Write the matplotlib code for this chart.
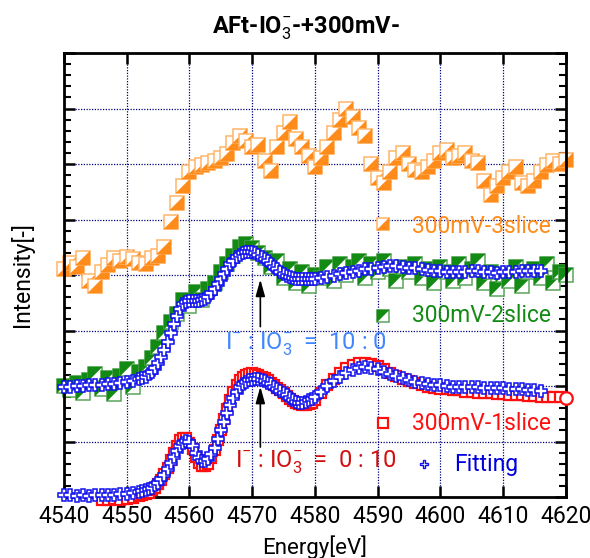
"""AFt-IO3- +300mV XANES slices with fitting curves."""

import matplotlib
matplotlib.use('Agg')
import matplotlib.pyplot as plt
from matplotlib.path import Path
from matplotlib.ticker import MultipleLocator

plt.rcParams['font.family'] = ['Roboto', 'DejaVu Sans']
plt.rcParams['mathtext.fontset'] = 'custom'
plt.rcParams['mathtext.rm'] = 'Roboto'
plt.rcParams['mathtext.it'] = 'Roboto'
plt.rcParams['mathtext.bf'] = 'Roboto:bold'

# ---- data (Intensity in arbitrary units, offset stacked) ----
fit_grid = [4540, 4541, 4542, 4543, 4544, 4545, 4546, 4547, 4548, 4549, 4550, 4551,
            4552, 4552.5, 4553, 4553.5, 4554, 4554.5, 4555, 4555.5, 4556, 4556.5,
            4557, 4557.5, 4558, 4558.5, 4559, 4559.5, 4560, 4560.5, 4561, 4561.5,
            4562, 4562.5, 4563, 4563.5, 4564, 4564.5, 4565, 4565.5, 4566, 4566.5,
            4567, 4567.5, 4568, 4568.5, 4569, 4569.5, 4570, 4570.5, 4571, 4571.5,
            4572, 4572.5, 4573, 4573.5, 4574, 4574.5, 4575, 4575.5, 4576, 4576.5,
            4577, 4577.5, 4578, 4578.5, 4579, 4579.5, 4580,
            4581, 4582, 4583, 4584, 4585, 4586, 4587, 4588, 4589, 4590, 4591, 4592,
            4593, 4594, 4595, 4596, 4597, 4598, 4599, 4600, 4601, 4602, 4603, 4604,
            4605, 4606, 4607, 4608, 4609, 4610, 4611, 4612, 4613, 4614, 4615, 4616]

fit1_y = [0.03, 0.03, 0.02, 0.03, 0.02, 0.03, 0.03, 0.04, 0.04, 0.05, 0.06, 0.07,
          0.09, 0.10, 0.12, 0.14, 0.17, 0.21, 0.26, 0.32, 0.40, 0.50,
          0.61, 0.72, 0.83, 0.92, 0.98, 1.01, 0.99, 0.92, 0.80, 0.70,
          0.65, 0.64, 0.68, 0.77, 0.89, 1.04, 1.20, 1.36, 1.52, 1.66,
          1.79, 1.90, 1.98, 2.04, 2.08, 2.10, 2.11, 2.12, 2.12, 2.11,
          2.09, 2.06, 2.03, 1.99, 1.95, 1.91, 1.87, 1.83, 1.79, 1.75,
          1.72, 1.70, 1.70, 1.71, 1.74, 1.77, 1.81,
          1.90, 2.00, 2.09, 2.17, 2.24, 2.29, 2.33, 2.34, 2.33, 2.30, 2.26, 2.22,
          2.18, 2.14, 2.11, 2.08, 2.06, 2.04, 2.02, 2.01, 2.00, 1.99, 1.99, 1.98,
          1.99, 1.98, 1.97, 1.97, 1.96, 1.97, 1.95, 1.95, 1.94, 1.93, 1.92, 1.91]

fit2_y = [1.99, 1.99, 2.00, 2.00, 2.01, 2.01, 2.02, 2.03, 2.04, 2.05, 2.07, 2.09,
          2.12, 2.14, 2.17, 2.21, 2.26, 2.33, 2.41, 2.52, 2.65, 2.80,
          2.96, 3.12, 3.27, 3.39, 3.47, 3.51, 3.53, 3.53, 3.53, 3.54,
          3.55, 3.57, 3.61, 3.67, 3.74, 3.83, 3.92, 4.02, 4.11, 4.19,
          4.26, 4.32, 4.36, 4.39, 4.41, 4.42, 4.41, 4.39, 4.36, 4.33,
          4.29, 4.25, 4.20, 4.15, 4.10, 4.06, 4.02, 3.99, 3.96, 3.94,
          3.93, 3.92, 3.92, 3.92, 3.92, 3.92, 3.93,
          3.94, 3.96, 3.98, 4.01, 4.04, 4.06, 4.08, 4.10, 4.11, 4.13, 4.15, 4.16,
          4.16, 4.15, 4.13, 4.12, 4.10, 4.09, 4.08, 4.07, 4.06, 4.06, 4.05, 4.06,
          4.07, 4.07, 4.06, 4.05, 4.04, 4.05, 4.06, 4.06, 4.07, 4.07, 4.07, 4.07]

slice1_E = [4546, 4547, 4548, 4549, 4550, 4551,
            4552, 4552.5, 4553, 4553.5, 4554, 4554.5, 4555, 4555.5, 4556, 4556.5,
            4557, 4557.5, 4558, 4558.5, 4559, 4559.5, 4560, 4560.5, 4561, 4561.5,
            4562, 4562.5, 4563, 4563.5, 4564, 4564.5, 4565, 4565.5, 4566, 4566.5,
            4567, 4567.5, 4568, 4568.5, 4569, 4569.5, 4570, 4570.5, 4571, 4571.5,
            4572, 4572.5, 4573, 4573.5, 4574, 4574.5, 4575, 4575.5, 4576, 4576.5,
            4577, 4577.5, 4578, 4578.5, 4579, 4579.5, 4580,
            4581, 4582, 4583, 4584, 4585, 4586, 4587, 4588, 4589, 4590, 4591, 4592,
            4593, 4594, 4595, 4596, 4597, 4598, 4599, 4600, 4601, 4602, 4603, 4604,
            4605, 4606, 4607, 4608, 4609, 4610, 4611, 4612, 4613, 4614, 4615, 4616,
            4617, 4618, 4619]
slice1_y = [-0.05, -0.05, -0.04, -0.05, -0.03, -0.02,
            0.01, 0.03, 0.05, 0.08, 0.12, 0.17, 0.23, 0.31, 0.41, 0.53,
            0.66, 0.80, 0.92, 1.02, 1.07, 1.06, 0.98, 0.86, 0.72, 0.62,
            0.56, 0.55, 0.60, 0.70, 0.85, 1.02, 1.21, 1.40, 1.58, 1.75,
            1.89, 2.01, 2.10, 2.16, 2.20, 2.22, 2.23, 2.22, 2.20, 2.17,
            2.14, 2.10, 2.06, 2.02, 1.97, 1.92, 1.87, 1.82, 1.77, 1.73,
            1.70, 1.67, 1.66, 1.66, 1.67, 1.70, 1.74,
            1.88, 2.01, 2.13, 2.24, 2.32, 2.38, 2.41, 2.42, 2.40, 2.36, 2.30, 2.24,
            2.18, 2.13, 2.09, 2.05, 2.02, 1.99, 1.97, 1.95, 1.94, 1.92, 1.92, 1.90,
            1.90, 1.88, 1.87, 1.88, 1.86, 1.85, 1.84, 1.84, 1.83, 1.82, 1.82, 1.81,
            1.81, 1.80, 1.80]
# last point of 1slice is drawn as a circle in the original
slice1_last_E = [4620]
slice1_last_y = [1.79]

slice_E = [4540, 4541, 4542, 4543, 4544, 4545, 4546, 4547, 4548, 4549,
           4550, 4551, 4552, 4553, 4554, 4555, 4556, 4557, 4558, 4559,
           4560, 4561, 4562, 4563, 4564, 4565, 4566, 4567, 4568, 4569,
           4570, 4571, 4572, 4573, 4574, 4575, 4576, 4577, 4578, 4579,
           4580, 4581, 4582, 4583, 4584, 4585, 4586, 4587, 4588, 4589,
           4590, 4591, 4592, 4593, 4594, 4595, 4596, 4597, 4598, 4599,
           4600, 4601, 4602, 4603, 4604, 4605, 4606, 4607, 4608, 4609,
           4610, 4611, 4612, 4613, 4614, 4615, 4616, 4617, 4618, 4619, 4620]
slice2_y = [2.00, 1.92, 2.05, 1.88, 2.10, 2.22, 1.95, 2.15, 1.85, 2.18,
            2.30, 1.98, 2.25, 2.35, 2.50, 2.70, 2.95, 3.15, 3.30, 3.55,
            3.45, 3.70, 3.55, 3.75, 3.85, 4.05, 4.20, 4.35, 4.50, 4.55,
            4.48, 4.40, 4.30, 4.15, 4.25, 3.95, 4.10, 3.85, 4.05, 3.80,
            4.00, 3.95, 4.15, 3.90, 4.20, 4.00, 4.15, 4.25, 3.95, 4.20,
            4.05, 4.25, 4.10, 3.90, 4.15, 4.05, 4.20, 3.95, 4.10, 3.85,
            4.15, 4.05, 3.90, 4.20, 3.95, 4.10, 4.25, 3.85, 4.05, 3.75,
            4.00, 3.90, 4.15, 3.80, 4.05, 4.10, 3.95, 4.20, 3.85, 4.05, 4.00]
slice3_y = [4.10, 4.22, 4.15, 4.30, 3.90, 3.80, 4.05, 4.18, 4.30, 4.25,
            4.32, 4.28, 4.22, 4.20, 4.30, 4.35, 4.50, 4.95, 5.30, 5.60,
            5.85, 5.95, 5.98, 6.02, 6.05, 6.10, 6.18, 6.38, 6.50, 6.42,
            6.30, 6.35, 6.05, 5.88, 6.30, 6.55, 6.75, 6.45, 6.30, 6.15,
            5.95, 6.10, 6.30, 6.55, 6.80, 7.00, 6.85, 6.65, 6.50, 6.00,
            5.75, 5.65, 5.85, 6.10, 6.20, 6.00, 5.90, 5.85, 5.95, 6.05,
            6.20, 6.25, 6.10, 6.15, 6.20, 6.05, 6.02, 5.70, 5.45, 5.60,
            5.75, 5.85, 5.95, 5.65, 5.60, 5.70, 5.85, 5.98, 6.05, 6.00, 6.08]

ORANGE, ORANGE_EDGE = '#ff8c1a', '#ffb468'
GREEN, GREEN_EDGE = '#138a13', '#5aa65a'
RED = '#ff1010'
BLUE = '#1010ee'

# half-filled square markers (diagonal split)
TRI_LR = Path([(-1, -1), (1, -1), (1, 1), (-1, -1)],
              [Path.MOVETO, Path.LINETO, Path.LINETO, Path.CLOSEPOLY])
TRI_UL = Path([(-1, -1), (-1, 1), (1, 1), (-1, -1)],
              [Path.MOVETO, Path.LINETO, Path.LINETO, Path.CLOSEPOLY])


def half_square(ax, x, y, fill, edge, tri, ms=10.5, z=2):
    ax.plot(x, y, marker='s', ms=ms, mfc='white', mec=edge, mew=1.1,
            ls='none', zorder=z, clip_on=False)
    ax.plot(x, y, marker=tri, ms=ms, mfc=fill, mec=fill, mew=0.3,
            ls='none', zorder=z, clip_on=False)


fig = plt.figure(figsize=(5.9, 5.58), dpi=100)
ax = fig.add_axes([0.1085, 0.1093, 0.8505, 0.7957])

# orange: 3slice
for i, (e, v) in enumerate(zip(slice_E, slice3_y)):
    half_square(ax, e, v, ORANGE, ORANGE_EDGE, TRI_LR, z=2 + i * 1e-4)
# green: 2slice
for i, (e, v) in enumerate(zip(slice_E, slice2_y)):
    half_square(ax, e, v, GREEN, GREEN_EDGE, TRI_UL, z=2 + i * 1e-4)
# red: 1slice
ax.plot(slice1_E, slice1_y, marker='s', ms=7.5, mfc='white', mec=RED, mew=1.6,
        ls='none', zorder=3, clip_on=False)
ax.plot(slice1_last_E, slice1_last_y, marker='o', ms=9, mfc='white', mec=RED, mew=1.6,
        ls='none', zorder=3, clip_on=False)
# fittings
ax.plot(fit_grid, fit2_y, marker='P', ms=8, mfc='white', mec=BLUE, mew=1.1,
        ls='none', zorder=4, clip_on=False)
ax.plot(fit_grid, fit1_y, marker='P', ms=8, mfc='white', mec=BLUE, mew=1.1,
        ls='none', zorder=4, clip_on=False)

# arrows and ratio labels
arrow_kw = dict(arrowstyle='-|>,head_width=0.28,head_length=1.0', color='black',
                lw=1.2, shrinkA=0, shrinkB=0)
ax.annotate('', xy=(4571.3, 3.92), xytext=(4571.3, 3.07), arrowprops=arrow_kw, zorder=6)
ax.annotate('', xy=(4571.3, 1.99), xytext=(4571.3, 0.90), arrowprops=arrow_kw, zorder=6)
ax.text(4578.6, 2.75, r'I$^{-}$ : IO$_{3}^{-}$  =  10 : 0', color='#3f86ff',
        fontsize=17, ha='center', va='center', zorder=6)
ax.text(4580.2, 0.62, r'I$^{-}$ : IO$_{3}^{-}$  =  0 : 10', color='#d01010',
        fontsize=17, ha='center', va='center', zorder=6)

# in-plot legend
half_square(ax, 4590.8, 4.92, ORANGE, ORANGE_EDGE, TRI_LR, ms=9, z=6)
ax.text(4595.4, 4.88, '300mV-3slice', color=ORANGE, fontsize=16.5, va='center', zorder=6)
half_square(ax, 4590.8, 3.27, GREEN, GREEN_EDGE, TRI_UL, ms=9, z=6)
ax.text(4595.4, 3.27, '300mV-2slice', color=GREEN, fontsize=16.5, va='center', zorder=6)
ax.plot(4590.8, 1.34, marker='s', ms=7.5, mfc='white', mec=RED, mew=1.6, zorder=6)
ax.text(4595.4, 1.32, '300mV-1slice', color=RED, fontsize=16.5, va='center', zorder=6)
ax.plot(4597.4, 0.59, marker='P', ms=6, mfc='white', mec=BLUE, mew=1.0, zorder=6)
ax.text(4602.2, 0.58, 'Fitting', color='#0000dd', fontsize=16.5, va='center', zorder=6)

ax.set_xlim(4540, 4620)
ax.set_ylim(0, 8)
ax.xaxis.set_major_locator(MultipleLocator(10))
ax.yaxis.set_major_locator(MultipleLocator(1))
ax.yaxis.set_minor_locator(MultipleLocator(0.2))
ax.tick_params(axis='both', which='both', direction='in', top=True, right=True)
ax.tick_params(axis='x', which='major', length=8, width=1.8, labelsize=16.5, pad=6)
ax.tick_params(axis='y', which='major', length=8, width=1.8, labelleft=False)
ax.tick_params(axis='y', which='minor', length=5, width=1.5)
for sp in ax.spines.values():
    sp.set_linewidth(2.0)

ax.grid(True, which='major', color='#00007a', linestyle=(0, (1, 1.2)), linewidth=0.9)
ax.set_axisbelow(True)

ax.set_xlabel('Energy[eV]', fontsize=16, labelpad=5)
ax.set_ylabel('Intensity[-]', fontsize=16.5, labelpad=18)
fig.text(0.518, 0.950, r'AFt-IO$_{3}^{-}$-+300mV-', fontsize=17, fontweight='bold',
         ha='center', va='center')

fig.savefig('out.png', dpi=100)
plt.close(fig)
